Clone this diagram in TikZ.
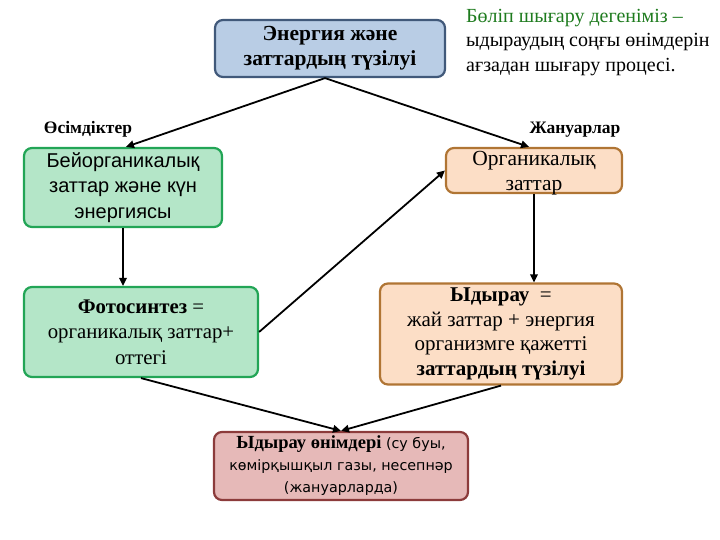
\documentclass[tikz,border=0pt]{standalone}
\usepackage{fontspec}
\setmainfont{Liberation Serif}
\newfontfamily\sansf{Liberation Sans}
\newfontfamily\dvs{DejaVu Sans}
\usetikzlibrary{arrows.meta}
\definecolor{bluefill}{HTML}{B9CDE5}
\definecolor{blueline}{HTML}{41597A}
\definecolor{greenfill}{HTML}{B4E6C8}
\definecolor{greenline}{HTML}{22A556}
\definecolor{peachfill}{HTML}{FCDEC6}
\definecolor{peachline}{HTML}{B07534}
\definecolor{redfill}{HTML}{E6B9B8}
\definecolor{redline}{HTML}{8C3B3B}
\definecolor{titlegreen}{HTML}{1E7B1E}
\tikzset{
  box/.style={rectangle, rounded corners=8pt, line width=2.2pt, align=center, inner sep=2pt},
  bluebox/.style={box, fill=bluefill, draw=blueline},
  greenbox/.style={box, fill=greenfill, draw=greenline},
  peachbox/.style={box, fill=peachfill, draw=peachline},
  redbox/.style={box, fill=redfill, draw=redline},
  conn/.style={line width=1.8pt, -{Triangle[length=8pt,width=7.5pt]}},
  lbl/.style={font=\fontsize{17.5}{20}\selectfont\bfseries, inner sep=0pt}
}
\begin{document}
\begin{tikzpicture}[x=1pt,y=-1pt]
\useasboundingbox (0,0) rectangle (720,540);

\node[bluebox, minimum width=230pt, minimum height=57pt, font=\fontsize{21.5}{25}\selectfont\bfseries] (top) at (330,48.5) {Энергия және\\заттардың түзілуі};

\node[anchor=north west, align=left, inner sep=0pt, font=\fontsize{20}{24.5}\selectfont] (note) at (466,9) {\textcolor{titlegreen}{Бөліп шығару дегеніміз –}\\ыдыраудың соңғы өнімдерін\\ағзадан шығару процесі.};

\node[lbl] (plants) at (88,129) {Өсімдіктер};
\node[lbl] (animals) at (575,130) {Жануарлар};

\node[greenbox, minimum width=198pt, minimum height=79pt, font=\sansf\fontsize{20}{25.5}\selectfont] (inorg) at (123,187.5) {Бейорганикалық\\заттар және күн\\энергиясы};

\node[peachbox, minimum width=176pt, minimum height=45pt] (org) at (534,170.5) {};
\node[align=center, inner sep=0pt, font=\fontsize{21.5}{25}\selectfont] (orgtext) at (534,173.5) {Органикалық\\заттар};

\node[greenbox, minimum width=234pt, minimum height=90pt, font=\fontsize{20.8}{25.5}\selectfont] (photo) at (141,332) {\textbf{Фотосинтез} =\\органикалық заттар+\\оттегі};

\node[peachbox, minimum width=242pt, minimum height=101pt, font=\fontsize{21}{24.5}\selectfont] (decomp) at (501,334) {\textbf{Ыдырау} \ =\\жай заттар + энергия\\организмге қажетті\\\textbf{заттардың түзілуі}};

\node[redbox, minimum width=254pt, minimum height=68pt, font=\dvs\fontsize{14.3}{22}\selectfont] (prod) at (341,466) {{\rmfamily\fontsize{18.5}{22}\selectfont\bfseries Ыдырау өнімдері} (су буы,\\көмірқышқыл газы, несепнәр\\(жануарларда)};

\draw[conn] ([xshift=-5pt]top.south) -- ([xshift=3pt]inorg.north);
\draw[conn] ([xshift=-5pt]top.south) -- ([xshift=-5pt]org.north);
\draw[conn] (inorg.south) -- (inorg.south |- photo.north);
\draw[conn] (org.south) -- (org.south |- decomp.north);
\draw[conn] (photo.east) -- (org.west);
\draw[conn] (photo.south) -- (prod.north);
\draw[conn] (decomp.south) -- (prod.north);
\end{tikzpicture}
\end{document}
